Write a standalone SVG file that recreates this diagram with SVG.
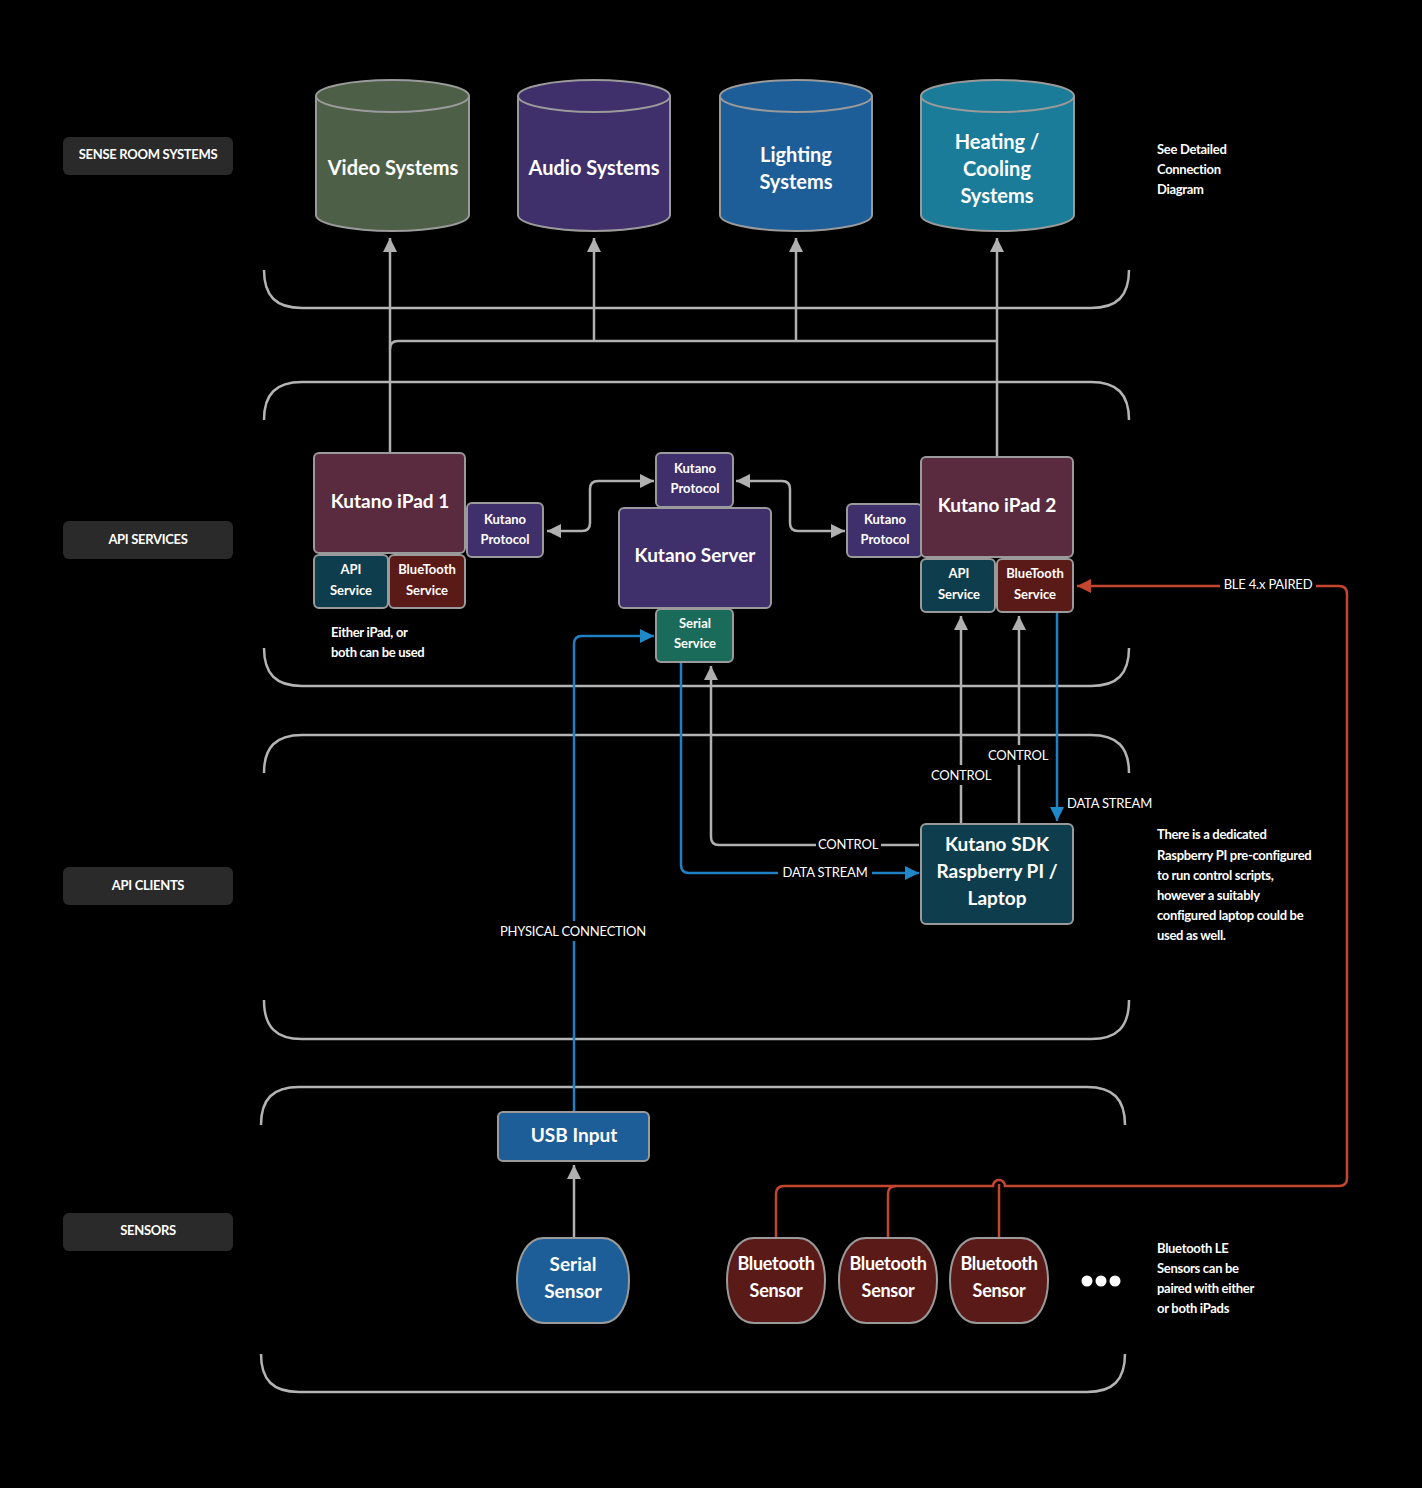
<svg xmlns="http://www.w3.org/2000/svg" width="1422" height="1488" viewBox="0 0 1422 1488">
<defs>
<style>
text{font-family:Lato,"Open Sans","Liberation Sans",sans-serif;fill:#fff;}
.lbl{font-size:13px;text-anchor:middle;font-weight:bold;letter-spacing:-0.3px;}
.node{stroke:#9a9a9a;stroke-width:2;}
.big{font-size:20px;text-anchor:middle;font-weight:bold;}
.mid{font-size:19px;text-anchor:middle;font-weight:bold;}
.bt{font-size:18px;text-anchor:middle;font-weight:bold;letter-spacing:-0.3px;}
.sm{font-size:13px;text-anchor:middle;font-weight:bold;}
.note{font-size:13px;font-weight:bold;letter-spacing:-0.3px;}
.cl{font-size:13px;text-anchor:middle;letter-spacing:-0.2px;}
.br{fill:none;stroke:#b4b4b4;stroke-width:2.5;}
.g{fill:none;stroke:#b0b0b0;stroke-width:2.5;}
.b{fill:none;stroke:#1f80c4;stroke-width:2.5;}
.r{fill:none;stroke:#c4462f;stroke-width:2.5;}
.bg{fill:#000;}
.tag{fill:#2a2a2a;}
</style>
<marker id="ag" viewBox="0 0 10 10" refX="10" refY="5" markerWidth="18" markerHeight="14" orient="auto-start-reverse" markerUnits="userSpaceOnUse"><path d="M0,0 L10,5 L0,10 z" fill="#b0b0b0"/></marker>
<marker id="ab" viewBox="0 0 10 10" refX="10" refY="5" markerWidth="18" markerHeight="14" orient="auto" markerUnits="userSpaceOnUse"><path d="M0,0 L10,5 L0,10 z" fill="#1f88c8"/></marker>
<marker id="ar" viewBox="0 0 10 10" refX="10" refY="5" markerWidth="18" markerHeight="14" orient="auto" markerUnits="userSpaceOnUse"><path d="M0,0 L10,5 L0,10 z" fill="#c4462f"/></marker>
</defs>
<rect width="1422" height="1488" fill="#000"/>

<g id="section-brackets">
<path class="br" d="M264,270 C264,296 276,308 302,308 H1091 C1117,308 1129,296 1129,270"/>
<path class="br" d="M264,420 C264,394 276,382 302,382 H1091 C1117,382 1129,394 1129,420"/>
<path class="br" d="M264,648 C264,674 276,686 302,686 H1091 C1117,686 1129,674 1129,648"/>
<path class="br" d="M264,773 C264,747 276,735 302,735 H1091 C1117,735 1129,747 1129,773"/>
<path class="br" d="M264,1000 C264,1027 276,1039 302,1039 H1091 C1117,1039 1129,1027 1129,1000"/>
<path class="br" d="M261,1125 C261,1099 273,1087 299,1087 H1087 C1113,1087 1125,1099 1125,1125"/>
<path class="br" d="M261,1354 C261,1380 273,1392 299,1392 H1087 C1113,1392 1125,1380 1125,1354"/>
</g>

<g id="section-labels">
<g id="lbl-sense"><rect class="tag" x="63" y="137" width="170" height="38" rx="6"/><text class="lbl" x="148" y="159">SENSE ROOM SYSTEMS</text></g>
<g id="lbl-api-services"><rect class="tag" x="63" y="521" width="170" height="38" rx="6"/><text class="lbl" x="148" y="544">API SERVICES</text></g>
<g id="lbl-api-clients"><rect class="tag" x="63" y="867" width="170" height="38" rx="6"/><text class="lbl" x="148" y="890">API CLIENTS</text></g>
<g id="lbl-sensors"><rect class="tag" x="63" y="1213" width="170" height="38" rx="6"/><text class="lbl" x="148" y="1235">SENSORS</text></g>
</g>

<g id="connectors">
<path class="g" d="M390,453 V238" marker-end="url(#ag)"/>
<path class="g" d="M997,457 V238" marker-end="url(#ag)"/>
<path class="g" d="M390,349 Q390,341 398,341 H997"/>
<path class="g" d="M594,341 V238" marker-end="url(#ag)"/>
<path class="g" d="M796,341 V238" marker-end="url(#ag)"/>
<path class="g" d="M547,531 H582 Q590,531 590,523 V489 Q590,481 598,481 H654" marker-start="url(#ag)" marker-end="url(#ag)"/>
<path class="g" d="M736,481 H782 Q790,481 790,489 V523 Q790,531 798,531 H845" marker-start="url(#ag)" marker-end="url(#ag)"/>
<path class="b" d="M574,1112 V644 Q574,636 582,636 H654" marker-end="url(#ab)"/>
<rect class="bg" x="490" y="921" width="168" height="20"/>
<text class="cl" x="573" y="936">PHYSICAL CONNECTION</text>
<path class="b" d="M681,662 V865 Q681,873 689,873 H919" marker-end="url(#ab)"/>
<rect class="bg" x="778" y="863" width="94" height="20"/>
<text class="cl" x="825" y="877">DATA STREAM</text>
<path class="g" d="M919,845 H719 Q711,845 711,837 V666" marker-end="url(#ag)"/>
<rect class="bg" x="816" y="835" width="65" height="20"/>
<text class="cl" x="848" y="849">CONTROL</text>
<path class="g" d="M961,824 V616" marker-end="url(#ag)"/>
<rect class="bg" x="928" y="765" width="66" height="20"/>
<text class="cl" x="961" y="780">CONTROL</text>
<path class="g" d="M1019,824 V616" marker-end="url(#ag)"/>
<rect class="bg" x="986" y="745" width="66" height="20"/>
<text class="cl" x="1018" y="760">CONTROL</text>
<path class="b" d="M1057,612 V821" marker-end="url(#ab)"/>
<text class="cl" x="1067" y="808" style="text-anchor:start">DATA STREAM</text>
<path class="r" d="M776,1238 V1194 Q776,1186 784,1186 H993 A6,6 0 0 1 1005,1186 H1339 Q1347,1186 1347,1178 V594 Q1347,586 1339,586 H1077" marker-end="url(#ar)"/>
<path class="r" d="M888,1238 V1194 Q888,1186 896,1186"/>
<path class="r" d="M999,1238 V1184"/>
<rect class="bg" x="1220" y="576" width="96" height="20"/>
<text class="cl" x="1268" y="589">BLE 4.x PAIRED</text>
<path class="g" d="M574,1238 V1165" marker-end="url(#ag)"/>
</g>

<g id="video-systems">
<path class="node" fill="#4e5f48" d="M316,96 V215 A76.5,16 0 0 0 469,215 V96"/>
<ellipse class="node" fill="#4e5f48" cx="392.5" cy="96" rx="76.5" ry="16"/>
<text class="big" x="393" y="175">Video Systems</text>
</g>
<g id="audio-systems">
<path class="node" fill="#3f2f6b" d="M518,96 V215 A76,16 0 0 0 670,215 V96"/>
<ellipse class="node" fill="#3f2f6b" cx="594" cy="96" rx="76" ry="16"/>
<text class="big" x="594" y="175">Audio Systems</text>
</g>
<g id="lighting-systems">
<path class="node" fill="#1d5d98" d="M720,96 V215 A76,16 0 0 0 872,215 V96"/>
<ellipse class="node" fill="#1d5d98" cx="796" cy="96" rx="76" ry="16"/>
<text class="big" x="796" y="162">Lighting</text>
<text class="big" x="796" y="189">Systems</text>
</g>
<g id="heating-cooling-systems">
<path class="node" fill="#1b7c99" d="M921,96 V215 A76.5,16 0 0 0 1074,215 V96"/>
<ellipse class="node" fill="#1b7c99" cx="997.5" cy="96" rx="76.5" ry="16"/>
<text class="big" x="997" y="149">Heating /</text>
<text class="big" x="997" y="176">Cooling</text>
<text class="big" x="997" y="203">Systems</text>
</g>

<g id="ipad1">
<rect class="node" fill="#5a2a3e" x="314" y="453" width="151" height="100" rx="5"/>
<text class="mid" x="390" y="508">Kutano iPad 1</text>
</g>
<g id="ipad1-api">
<rect class="node" fill="#0e3d4e" x="314" y="555" width="74" height="53" rx="5"/>
<text class="sm" x="351" y="574">API</text><text class="sm" x="351" y="595">Service</text>
</g>
<g id="ipad1-bt">
<rect class="node" fill="#5a1a18" x="389" y="555" width="76" height="53" rx="5"/>
<text class="sm" x="427" y="574">BlueTooth</text><text class="sm" x="427" y="595">Service</text>
</g>
<g id="ipad1-protocol">
<rect class="node" fill="#3f2f6b" x="467" y="503" width="76" height="54" rx="5"/>
<text class="sm" x="505" y="524">Kutano</text><text class="sm" x="505" y="544">Protocol</text>
</g>
<g id="server-protocol">
<rect class="node" fill="#3f2f6b" x="656" y="453" width="77" height="54" rx="5"/>
<text class="sm" x="695" y="473">Kutano</text><text class="sm" x="695" y="493">Protocol</text>
</g>
<g id="kutano-server">
<rect class="node" fill="#3f2f6b" x="619" y="508" width="152" height="100" rx="5"/>
<text class="mid" x="695" y="562">Kutano Server</text>
</g>
<g id="serial-service">
<rect class="node" fill="#1a6b5a" x="656" y="609" width="77" height="53" rx="5"/>
<text class="sm" x="695" y="628">Serial</text><text class="sm" x="695" y="648">Service</text>
</g>
<g id="ipad2-protocol">
<rect class="node" fill="#3f2f6b" x="847" y="504" width="75" height="53" rx="5"/>
<text class="sm" x="885" y="524">Kutano</text><text class="sm" x="885" y="544">Protocol</text>
</g>
<g id="ipad2">
<rect class="node" fill="#5a2a3e" x="921" y="457" width="152" height="100" rx="5"/>
<text class="mid" x="997" y="512">Kutano iPad 2</text>
</g>
<g id="ipad2-api">
<rect class="node" fill="#0e3d4e" x="921" y="559" width="74" height="53" rx="5"/>
<text class="sm" x="959" y="578">API</text><text class="sm" x="959" y="599">Service</text>
</g>
<g id="ipad2-bt">
<rect class="node" fill="#5a1a18" x="997" y="559" width="76" height="53" rx="5"/>
<text class="sm" x="1035" y="578">BlueTooth</text><text class="sm" x="1035" y="599">Service</text>
</g>
<g id="note-either">
<text class="note" x="331" y="637">Either iPad, or</text>
<text class="note" x="331" y="657">both can be used</text>
</g>

<g id="kutano-sdk">
<rect class="node" fill="#0e3d4e" x="921" y="824" width="152" height="100" rx="5"/>
<text class="mid" x="997" y="851">Kutano SDK</text>
<text class="mid" x="997" y="878">Raspberry PI /</text>
<text class="mid" x="997" y="905">Laptop</text>
</g>

<g id="usb-input">
<rect class="node" fill="#1d5d98" x="498" y="1112" width="151" height="49" rx="5"/>
<text class="mid" x="574" y="1142">USB Input</text>
</g>
<g id="serial-sensor">
<path class="node" fill="#1d5d98" d="M544,1238 H602 C638,1238 638,1323 602,1323 H544 C508,1323 508,1238 544,1238 Z"/>
<text class="mid" x="573" y="1271">Serial</text><text class="mid" x="573" y="1298">Sensor</text>
</g>
<g id="bt-sensor-1">
<path class="node" fill="#5a1a18" d="M754,1238 H798 C834,1238 834,1323 798,1323 H754 C718,1323 718,1238 754,1238 Z"/>
<text class="bt" x="776" y="1270">Bluetooth</text><text class="bt" x="776" y="1297">Sensor</text>
</g>
<g id="bt-sensor-2">
<path class="node" fill="#5a1a18" d="M866,1238 H910 C946,1238 946,1323 910,1323 H866 C830,1323 830,1238 866,1238 Z"/>
<text class="bt" x="888" y="1270">Bluetooth</text><text class="bt" x="888" y="1297">Sensor</text>
</g>
<g id="bt-sensor-3">
<path class="node" fill="#5a1a18" d="M977,1238 H1021 C1057,1238 1057,1323 1021,1323 H977 C941,1323 941,1238 977,1238 Z"/>
<text class="bt" x="999" y="1270">Bluetooth</text><text class="bt" x="999" y="1297">Sensor</text>
</g>
<g id="more-dots">
<circle cx="1087" cy="1281" r="5.5" fill="#fff"/><circle cx="1101" cy="1281" r="5.5" fill="#fff"/><circle cx="1115" cy="1281" r="5.5" fill="#fff"/>
</g>

<g id="notes">
<text class="note" x="1157" y="154">See Detailed</text>
<text class="note" x="1157" y="174">Connection</text>
<text class="note" x="1157" y="194">Diagram</text>
<text class="note" x="1157" y="839">There is a dedicated</text>
<text class="note" x="1157" y="860">Raspberry PI pre-configured</text>
<text class="note" x="1157" y="880">to run control scripts,</text>
<text class="note" x="1157" y="900">however a suitably</text>
<text class="note" x="1157" y="920">configured laptop could be</text>
<text class="note" x="1157" y="940">used as well.</text>
<text class="note" x="1157" y="1253">Bluetooth LE</text>
<text class="note" x="1157" y="1273">Sensors can be</text>
<text class="note" x="1157" y="1293">paired with either</text>
<text class="note" x="1157" y="1313">or both iPads</text>
</g>
</svg>
